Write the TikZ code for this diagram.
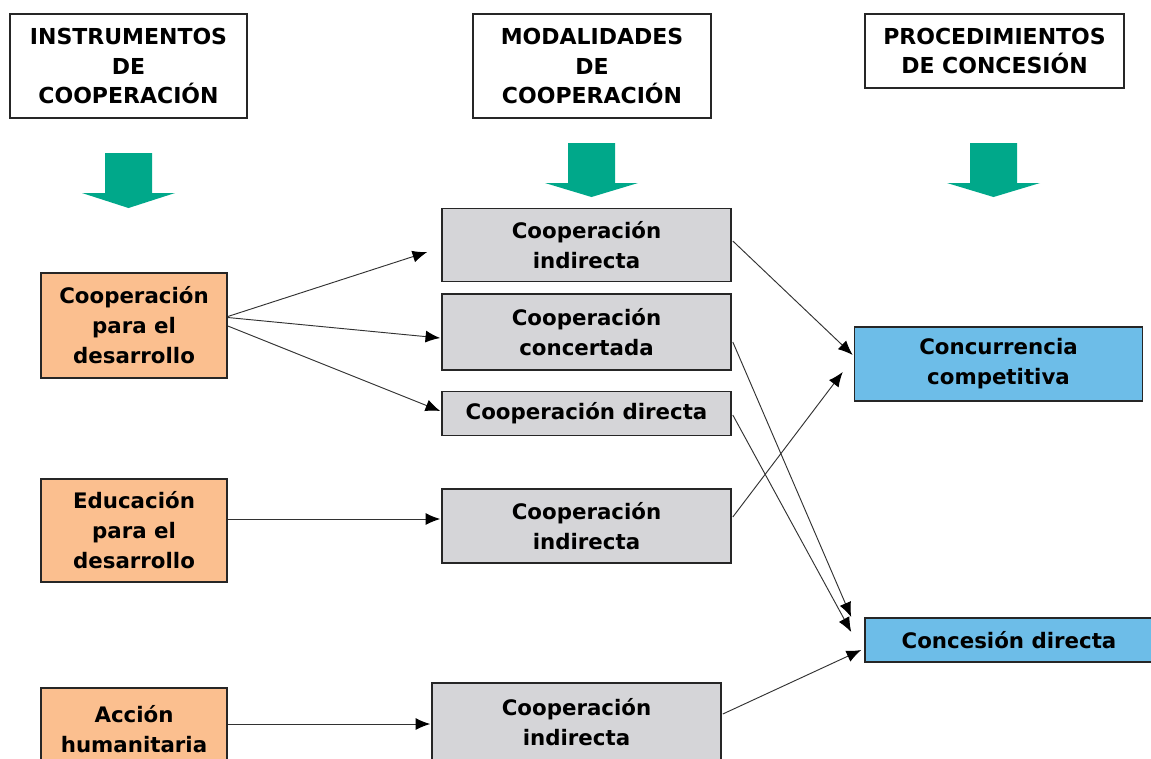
\documentclass[tikz,border=0pt]{standalone}
\usepackage{fontspec}
\setmainfont{DejaVu Sans}
\usetikzlibrary{calc,arrows.meta}
\definecolor{orangefill}{RGB}{251,191,143}
\definecolor{grayfill}{RGB}{213,213,216}
\definecolor{bluefill}{RGB}{109,189,232}
\definecolor{greenarrow}{RGB}{0,168,138}
\definecolor{edgegray}{RGB}{50,50,50}
\tikzset{
  header/.style={draw=black!85, line width=1pt, fill=white, align=center, inner sep=0pt,
    font=\fontsize{16.5}{22}\selectfont\bfseries},
  boxbase/.style={draw=black!85, line width=1.2pt, align=center, inner sep=0pt,
    font=\fontsize{16}{22.5}\selectfont\bfseries},
  instr/.style={boxbase, fill=orangefill, minimum width=186*0.75pt},
  modal/.style={boxbase, fill=grayfill, minimum width=289*0.75pt},
  proc/.style={boxbase, fill=bluefill, minimum width=288*0.75pt},
  conn/.style={draw=edgegray, line width=0.7pt, -{Latex[length=11pt,width=9pt,color=black]}},
  bigarrow/.style={fill=greenarrow, draw=none}
}
\begin{document}
\begin{tikzpicture}[x=0.75pt,y=-0.75pt]
\clip (0,0) rectangle (1151,758);
\fill[white] (0,0) rectangle (1151,758);

% headers
\node[header, minimum width=237*0.75pt, minimum height=104*0.75pt] (h1) at (128.5,66) {INSTRUMENTOS\\DE\\COOPERACIÓN};
\node[header, minimum width=238*0.75pt, minimum height=104*0.75pt] (h2) at (592,66) {MODALIDADES\\DE\\COOPERACIÓN};
\node[header, minimum width=259*0.75pt, minimum height=74*0.75pt] (h3) at (994.5,51) {PROCEDIMIENTOS\\DE CONCESIÓN};

% green arrows
\fill[bigarrow] (105,153) -- (152,153) -- (152,193) -- (175,193) -- (128.5,208) -- (82,193) -- (105,193) -- cycle;
\fill[bigarrow] (568,143) -- (615,143) -- (615,183) -- (638,183) -- (591.5,197) -- (545,183) -- (568,183) -- cycle;
\fill[bigarrow] (970,143) -- (1017,143) -- (1017,183) -- (1040,183) -- (993.5,197) -- (947,183) -- (970,183) -- cycle;

% instruments
\node[instr, minimum height=105*0.75pt] (o1) at (134,325.5) {Cooperación\\para el\\desarrollo};
\node[instr, minimum height=103*0.75pt] (o2) at (134,530.5) {Educación\\para el\\desarrollo};
\node[instr, minimum height=82*0.75pt] (o3) at (134,729) {Acción\\humanitaria};

% modalities
\node[modal, minimum height=73*0.75pt] (g1) at (586.5,245) {Cooperación\\indirecta};
\node[modal, minimum height=76*0.75pt] (g2) at (586.5,332) {Cooperación\\concertada};
\node[modal, minimum height=44*0.75pt] (g3) at (586.5,413.5) {Cooperación directa};
\node[modal, minimum height=74*0.75pt] (g4) at (586.5,526) {Cooperación\\indirecta};
\node[modal, minimum height=78*0.75pt] (g5) at (576.5,722) {Cooperación\\indirecta};

% procedures
\node[proc, minimum height=74*0.75pt] (b1) at (998.5,364) {Concurrencia\\competitiva};
\node[proc, minimum height=44*0.75pt] (b2) at (1009,640) {Concesión directa};

% connectors
\draw[conn] ($(o1.east)+(0,-9)$) -- ($(g1.west)+(-14,7)$);
\draw[conn] ($(o1.east)+(0,-8)$) -- ($(g2.west)+(-1,6)$);
\draw[conn] ($(o1.east)+(0,0.5)$) -- ($(g3.west)+(-1,-2.5)$);
\draw[conn] ($(o2.east)+(0,-11.5)$) -- ($(g4.west)+(-1,-7)$);
\draw[conn] ($(o3.east)+(0,-5)$) -- ($(g5.west)+(-1,2)$);
\draw[conn] ($(g1.east)+(1,-4)$) -- ($(b1.west)+(-1,-9)$);
\draw[conn] ($(g2.east)+(1,10)$) -- ($(b2.west)+(-13,-23)$);
\draw[conn] ($(g3.east)+(1,1.5)$) -- ($(b2.west)+(-13,-8)$);
\draw[conn] ($(g4.east)+(1,-9)$) -- ($(b1.west)+(-11,8)$);
\draw[conn] ($(g5.east)+(1,-8)$) -- ($(b2.west)+(-3,10)$);
\end{tikzpicture}
\end{document}
